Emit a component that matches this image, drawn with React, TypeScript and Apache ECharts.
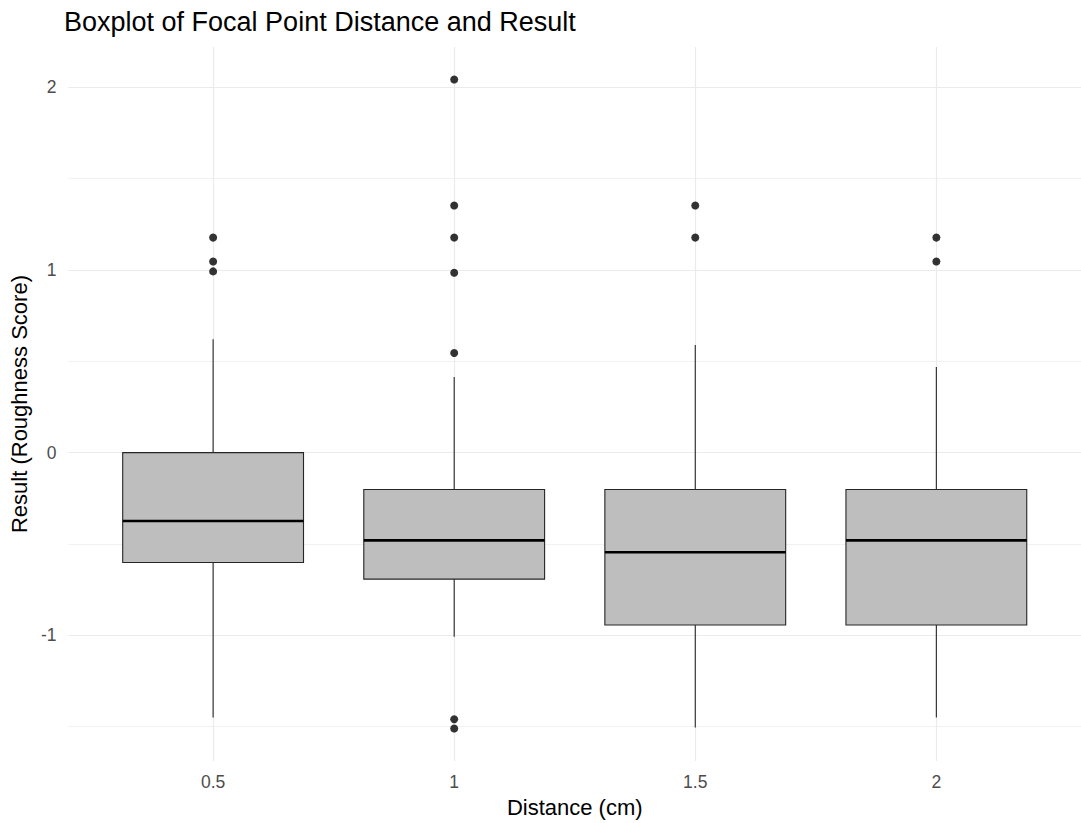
import React, { useEffect, useRef } from "react";
import * as echarts from "echarts";

// Focal point distance groups (cm)
const distances = ["0.5", "1", "1.5", "2"];

// Five-number summaries of the roughness score for each distance
const whiskerLow = [-1.45, -1.008, -1.504, -1.45];
const quartile1 = [-0.601, -0.692, -0.943, -0.943];
const medians = [-0.374, -0.48, -0.545, -0.48];
const quartile3 = [0.0, -0.202, -0.202, -0.202];
const whiskerHigh = [0.621, 0.414, 0.589, 0.469];

// Points beyond the whiskers, per distance
const outliers05 = [1.177, 1.046, 0.992];
const outliers10 = [2.042, 1.353, 1.177, 0.985, 0.545, -1.459, -1.51];
const outliers15 = [1.353, 1.177];
const outliers20 = [1.177, 1.046];

// Grid line positions on the score axis
const majorBreaks = [-1, 0, 1, 2];
const minorBreaks = [-1.5, -0.5, 0.5, 1.5];

// Score axis limits (data range padded by 5% on each side)
const yMin = -1.688;
const yMax = 2.22;

const font = "Liberation Sans, Arial, sans-serif";

export default function App() {
  const ref = useRef<HTMLDivElement>(null);

  useEffect(() => {
    if (!ref.current) return;
    const chart = echarts.init(ref.current, null, { renderer: "svg" });

    const boxRows = distances.map((_, i) => [
      i + 1,
      whiskerLow[i],
      quartile1[i],
      medians[i],
      quartile3[i],
      whiskerHigh[i],
    ]);
    const outlierGroups = [outliers05, outliers10, outliers15, outliers20];
    const outlierPoints: number[][] = [];
    outlierGroups.forEach((g, i) => g.forEach((v) => outlierPoints.push([i + 1, v])));

    const edge = "#262626";

    chart.setOption({
      animation: false,
      title: {
        text: "Boxplot of Focal Point Distance and Result",
        left: 64,
        top: 8,
        padding: 0,
        textStyle: {
          fontFamily: font,
          fontSize: 27,
          fontWeight: "normal",
          color: "#000",
        },
      },
      grid: { left: 65, right: 0, top: 47, height: 716 },
      xAxis: {
        type: "value",
        min: 0.4,
        max: 4.6,
        name: "Distance (cm)",
        nameLocation: "middle",
        nameGap: 33,
        nameTextStyle: { fontFamily: font, fontSize: 22, color: "#000" },
        axisLine: { show: false },
        axisTick: { show: false },
        splitLine: { show: false },
        axisLabel: {
          showMinLabel: false,
          showMaxLabel: false,
          margin: 12,
          fontFamily: font,
          fontSize: 17.5,
          color: "#4D4D4D",
          formatter: (v: number) => distances[Math.round(v) - 1] ?? "",
        },
      },
      yAxis: {
        type: "value",
        min: yMin,
        max: yMax,
        name: "Result (Roughness Score)",
        nameLocation: "middle",
        nameGap: 35,
        nameTextStyle: { fontFamily: font, fontSize: 22, color: "#000" },
        axisLine: { show: false },
        axisTick: { show: false },
        splitLine: { show: false },
        axisLabel: {
          showMinLabel: false,
          showMaxLabel: false,
          margin: 12,
          fontFamily: font,
          fontSize: 17.5,
          color: "#4D4D4D",
        },
      },
      series: [
        {
          type: "custom",
          z: 3,
          data: boxRows,
          encode: { x: 0, y: [1, 2, 3, 4, 5] },
          renderItem: (params: any, api: any) => {
            const x = api.value(0);
            const low = api.coord([x, api.value(1)]);
            const q1 = api.coord([x, api.value(2)]);
            const med = api.coord([x, api.value(3)]);
            const q3 = api.coord([x, api.value(4)]);
            const high = api.coord([x, api.value(5)]);
            const half = api.size([0.75, 0])[0] / 2;
            const cx = q1[0];
            return {
              type: "group",
              children: [
                {
                  type: "line",
                  shape: { x1: cx, y1: q3[1], x2: cx, y2: high[1] },
                  style: { stroke: edge, lineWidth: 1.1 },
                },
                {
                  type: "line",
                  shape: { x1: cx, y1: q1[1], x2: cx, y2: low[1] },
                  style: { stroke: edge, lineWidth: 1.1 },
                },
                {
                  type: "rect",
                  shape: { x: cx - half, y: q3[1], width: half * 2, height: q1[1] - q3[1] },
                  style: { fill: "#BEBEBE", stroke: edge, lineWidth: 1.1 },
                },
                {
                  type: "line",
                  shape: { x1: cx - half, y1: med[1], x2: cx + half, y2: med[1] },
                  style: { stroke: "#000", lineWidth: 2.6 },
                },
              ],
            };
          },
        },
        {
          type: "scatter",
          z: 4,
          data: outlierPoints,
          symbol: "circle",
          symbolSize: 8,
          itemStyle: { color: "#000" },
          silent: true,
          markLine: {
            z: 1,
            silent: true,
            symbol: "none",
            label: { show: false },
            data: [
              ...minorBreaks.map((v) => ({
                yAxis: v,
                lineStyle: { color: "#EFEFEF", width: 0.9, type: "solid" },
              })),
              ...majorBreaks.map((v) => ({
                yAxis: v,
                lineStyle: { color: "#EBEBEB", width: 1.2, type: "solid" },
              })),
              ...distances.map((_, i) => ({
                xAxis: i + 1,
                lineStyle: { color: "#EBEBEB", width: 1.2, type: "solid" },
              })),
            ],
          },
        },
      ],
    });

    return () => chart.dispose();
  }, []);

  return (
    <div
      ref={ref}
      style={{ position: "fixed", left: 0, top: 0, width: 1081, height: 823, background: "#fff" }}
    />
  );
}
